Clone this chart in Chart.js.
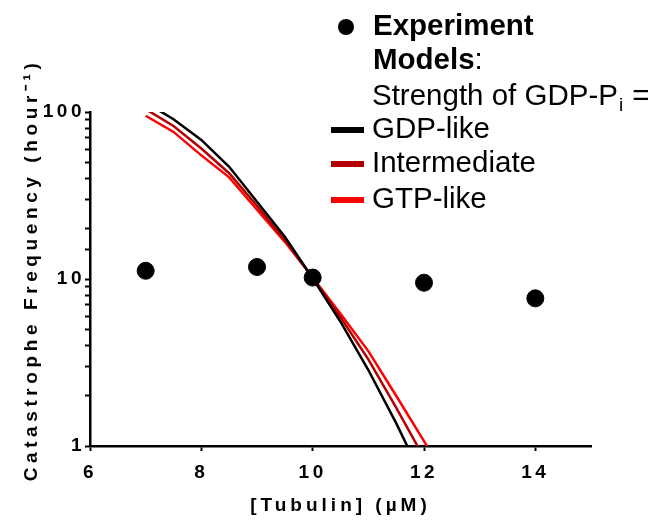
<!DOCTYPE html>
<html><head><meta charset="utf-8">
<script src="https://cdn.jsdelivr.net/npm/chart.js@4/dist/chart.umd.min.js"></script>
<style>html,body{margin:0;padding:0;background:#fff;}#wrap{width:663px;height:525px;}</style>
</head><body><div id="wrap"><canvas id="c" width="663" height="525"></canvas></div>
<script>
// ---- data ----
const modelX = [7, 7.5, 8, 8.5, 9, 9.5, 10, 10.5, 11, 11.5, 12, 12.5];
const gdpLike = [114, 90.5, 68, 47, 29, 17.9, 10.1, 5.55, 2.85, 1.37, 0.62, null];
const intermediate = [104, 82.5, 60.5, 43, 27.4, 17.1, 10.2, 5.9, 3.3, 1.7, 0.85, null];
const gtpLike = [95, 76, 55, 40.6, 26, 16.7, 10.2, 6.2, 3.7, 2.0, 1.07, 0.56];
const expX = [7, 9, 10, 12, 14];
const expY = [11.2, 11.8, 10.2, 9.5, 7.66];
const xTicks = [6, 8, 10, 12, 14];
const yTicks = [1, 10, 100];
const seriesNames = ['GDP-like', 'Intermediate', 'GTP-like'];
const seriesColors = ['#000000', '#b30000', '#ff0000'];

const FONT = '"Liberation Sans", Arial, Helvetica, sans-serif';

function pts(xs, ys) {
  const out = [];
  xs.forEach((x, i) => { if (ys[i] != null) out.push({ x: x, y: ys[i] }); });
  return out;
}

// letter spacing for axis labels / titles
const origDrawLabels = Chart.Scale.prototype.drawLabels;
Chart.Scale.prototype.drawLabels = function (a) {
  const prev = this.ctx.letterSpacing;
  this.ctx.letterSpacing = '3.5px';
  origDrawLabels.call(this, a);
  this.ctx.letterSpacing = prev;
};
const origDrawTitle = Chart.Scale.prototype.drawTitle;
Chart.Scale.prototype.drawTitle = function (a) {
  const ctx = this.ctx;
  const prev = ctx.letterSpacing;
  ctx.save();
  if (this.axis === 'x') {
    ctx.letterSpacing = '4px';
  } else {
    ctx.letterSpacing = '4.6px';
    ctx.translate(0, -9);
  }
  origDrawTitle.call(this, a);
  ctx.restore();
  ctx.letterSpacing = prev;
};

const legendPlugin = {
  id: 'customLegend',
  afterDraw(chart) {
    const ctx = chart.ctx;
    ctx.save();
    ctx.letterSpacing = '0px';
    ctx.fillStyle = '#000';
    ctx.textAlign = 'left';
    ctx.textBaseline = 'middle';
    ctx.beginPath();
    ctx.arc(346, 27, 8, 0, Math.PI * 2);
    ctx.fill();
    ctx.font = 'bold 29.5px ' + FONT;
    ctx.fillText('Experiment', 373, 27);
    ctx.fillText('Models', 373, 61);
    const w = ctx.measureText('Models').width;
    ctx.font = '29.5px ' + FONT;
    ctx.fillText(':', 373 + w, 61);
    const s = 'Strength of GDP-P';
    ctx.fillText(s, 372, 97);
    const ws = ctx.measureText(s).width;
    ctx.font = '19px ' + FONT;
    ctx.fillText('i', 372 + ws + 1, 106);
    const wi = ctx.measureText('i').width;
    ctx.font = '29.5px ' + FONT;
    ctx.fillText(' =', 372 + ws + wi + 2, 97);
    const ys = [130, 164, 200];
    seriesNames.forEach((n, i) => {
      ctx.fillStyle = seriesColors[i];
      ctx.fillRect(331, ys[i] - 3, 33, 6);
      ctx.fillStyle = '#000';
      ctx.fillText(n, 372, ys[i]);
    });
    ctx.restore();
  }
};

new Chart(document.getElementById('c'), {
  type: 'line',
  data: {
    datasets: [
      { label: 'Experiment', data: pts(expX, expY), showLine: false, pointRadius: 8.5, pointHoverRadius: 8.5,
        pointBackgroundColor: '#000', pointBorderColor: '#000', borderColor: '#000', backgroundColor: '#000', clip: false },
      { label: seriesNames[0], data: pts(modelX, gdpLike), borderColor: seriesColors[0], borderWidth: 2.5, pointRadius: 0, tension: 0, clip: 0 },
      { label: seriesNames[1], data: pts(modelX, intermediate), borderColor: seriesColors[1], borderWidth: 2.5, pointRadius: 0, tension: 0, clip: 0 },
      { label: seriesNames[2], data: pts(modelX, gtpLike), borderColor: seriesColors[2], borderWidth: 2.5, pointRadius: 0, tension: 0, clip: 0 }
    ]
  },
  options: {
    responsive: false,
    animation: false,
    devicePixelRatio: 1,
    layout: { padding: { top: 112, right: 72, left: 0, bottom: 0 } },
    plugins: { legend: { display: false }, tooltip: { enabled: false } },
    scales: {
      x: {
        type: 'linear', min: 6, max: 15,
        afterBuildTicks: s => { s.ticks = xTicks.map(v => ({ value: v })); },
        afterFit: s => { s.height = 79; },
        grid: { display: true, drawOnChartArea: false, drawTicks: true, tickLength: 5, tickWidth: 2, tickColor: '#000' },
        border: { display: true, color: '#000', width: 2.5 },
        ticks: { color: '#000', font: { family: FONT, size: 19, weight: 'bold' }, padding: 10, maxRotation: 0, autoSkip: false,
          callback: v => String(v) },
        title: { display: true, text: '[Tubulin] (µM)', color: '#000', font: { family: FONT, size: 19, weight: 'bold' }, padding: { top: 0, bottom: 8 } }
      },
      y: {
        type: 'logarithmic', min: 1, max: 100,
        afterFit: s => { s.width = 90; },
        grid: { display: true, drawOnChartArea: false, drawTicks: true, tickLength: 5, tickWidth: 2, tickColor: '#000' },
        border: { display: true, color: '#000', width: 2.5 },
        ticks: { color: '#000', font: { family: FONT, size: 19, weight: 'bold' }, padding: 0, autoSkip: false,
          callback: v => yTicks.includes(v) ? String(v) : '' },
        title: { display: true, text: 'Catastrophe Frequency (hour⁻¹)', color: '#000', font: { family: FONT, size: 19, weight: 'bold' }, padding: { top: 20, bottom: 0 } }
      }
    }
  },
  plugins: [legendPlugin]
});
</script>
</body></html>
